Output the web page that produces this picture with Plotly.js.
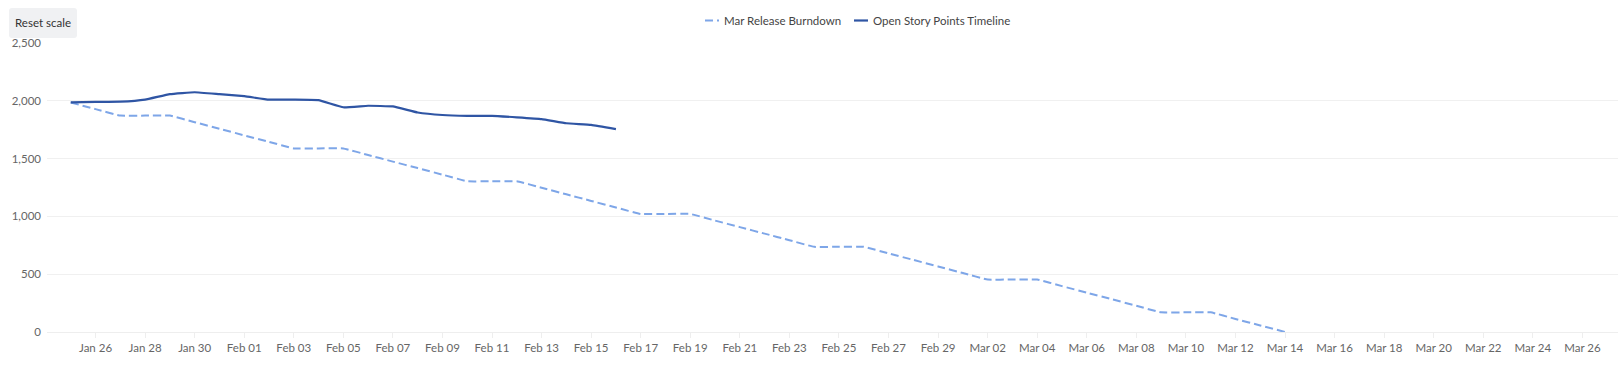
<!DOCTYPE html>
<html>
<head>
<meta charset="utf-8">
<script src="https://cdn.plot.ly/plotly-3.0.1.min.js"></script>
<style>
  html, body { margin: 0; padding: 0; background: #fff; }
  #wrap { position: relative; width: 1618px; height: 365px; font-family: "Lato", "Noto Sans", sans-serif; }
  #chart { position: absolute; left: 0; top: 0; width: 1618px; height: 365px; }
  #reset { position: absolute; left: 9px; top: 8px; width: 68px; height: 30px; background: #f0f1f3;
           border-radius: 3px; font-size: 11.5px; color: #333; line-height: 30px; text-align: center; }
  .leg { position: absolute; top: 12px; height: 16px; font-size: 11.5px; color: #444; line-height: 17px; white-space: nowrap; }
  .leg svg { position: absolute; left: 0; top: 7px; }
  .leg span { position: absolute; left: 19px; top: 0; }
</style>
</head>
<body>
<div id="wrap">
  <div id="chart"></div>
  <div id="reset">Reset scale</div>
  <div class="leg" id="leg1" style="left:705px"><svg width="14" height="3"><line x1="0" y1="1.5" x2="14" y2="1.5" stroke="#7ea6e8" stroke-width="2" stroke-dasharray="8,4"/></svg><span></span></div>
  <div class="leg" id="leg2" style="left:854px"><svg width="14" height="3"><line x1="0" y1="1.5" x2="14" y2="1.5" stroke="#2f55a4" stroke-width="2.2"/></svg><span></span></div>
</div>
<script>
const burndownName = "Mar Release Burndown";
const timelineName = "Open Story Points Timeline";

const burndownDates = [
  "2024-01-25","2024-01-26","2024-01-27","2024-01-28","2024-01-29","2024-01-30","2024-01-31",
  "2024-02-01","2024-02-02","2024-02-03","2024-02-04","2024-02-05","2024-02-06","2024-02-07",
  "2024-02-08","2024-02-09","2024-02-10","2024-02-11","2024-02-12","2024-02-13","2024-02-14",
  "2024-02-15","2024-02-16","2024-02-17","2024-02-18","2024-02-19","2024-02-20","2024-02-21",
  "2024-02-22","2024-02-23","2024-02-24","2024-02-25","2024-02-26","2024-02-27","2024-02-28",
  "2024-02-29","2024-03-01","2024-03-02","2024-03-03","2024-03-04","2024-03-05","2024-03-06",
  "2024-03-07","2024-03-08","2024-03-09","2024-03-10","2024-03-11","2024-03-12","2024-03-13",
  "2024-03-14"
];
const burndownValues = [
  1985, 1928, 1872, 1872, 1872, 1815, 1758,
  1701, 1645, 1588, 1588, 1588, 1531, 1474,
  1418, 1361, 1304, 1304, 1304, 1248, 1191,
  1134, 1077, 1021, 1021, 1021, 964, 907,
  851, 794, 737, 737, 737, 680, 624,
  567, 510, 454, 454, 454, 397, 340,
  284, 227, 170, 170, 170, 113, 57,
  0
];

const timelineDates = [
  "2024-01-25","2024-01-26","2024-01-27","2024-01-28","2024-01-29","2024-01-30","2024-01-31",
  "2024-02-01","2024-02-02","2024-02-03","2024-02-04","2024-02-05","2024-02-06","2024-02-07",
  "2024-02-08","2024-02-09","2024-02-10","2024-02-11","2024-02-12","2024-02-13","2024-02-14",
  "2024-02-15","2024-02-16"
];
const timelineValues = [
  1986, 1990, 1992, 2010, 2058, 2074, 2057,
  2040, 2010, 2010, 2006, 1944, 1957, 1951,
  1899, 1877, 1870, 1870, 1857, 1842, 1806,
  1792, 1755
];

const yTickVals = [0, 500, 1000, 1500, 2000, 2500];

document.querySelector('#leg1 span').textContent = burndownName;
document.querySelector('#leg2 span').textContent = timelineName;

const traces = [
  {
    x: burndownDates, y: burndownValues, name: burndownName, type: "scatter", mode: "lines",
    line: { color: "#7ea6e8", width: 2, dash: "8px,4px", shape: "spline", smoothing: 0.3 },
    hoverinfo: "skip"
  },
  {
    x: timelineDates, y: timelineValues, name: timelineName, type: "scatter", mode: "lines",
    line: { color: "#2f55a4", width: 2.2, shape: "spline", smoothing: 0.3 },
    hoverinfo: "skip"
  }
];

const layout = {
  width: 1618, height: 365,
  margin: { l: 47, r: 0, t: 43, b: 33, pad: 0 },
  paper_bgcolor: "#fff", plot_bgcolor: "#fff",
  showlegend: false,
  font: { family: "Lato, Noto Sans, sans-serif", size: 11.5, color: "#666" },
  xaxis: {
    type: "date",
    range: ["2024-01-24 01:00", "2024-03-27 10:30"],
    tick0: "2024-01-26", dtick: 86400000 * 2,
    tickformat: "%b %d",
    showgrid: false, zeroline: false, showline: false,
    ticks: "outside", ticklen: 5, tickcolor: "#eeeeee", tickwidth: 1,
    tickfont: { size: 11.5, color: "#666" }
  },
  yaxis: {
    range: [0, 2500],
    tickvals: yTickVals,
    tickformat: ",",
    showgrid: true, gridcolor: "#f0f0f0", gridwidth: 1,
    zeroline: true, zerolinecolor: "#eeeeee", zerolinewidth: 1,
    showline: false, ticks: "", ticklabelstandoff: 5,
    tickfont: { size: 11.5, color: "#666" }
  }
};

Plotly.newPlot("chart", traces, layout, { displayModeBar: false, staticPlot: true });
</script>
</body>
</html>
